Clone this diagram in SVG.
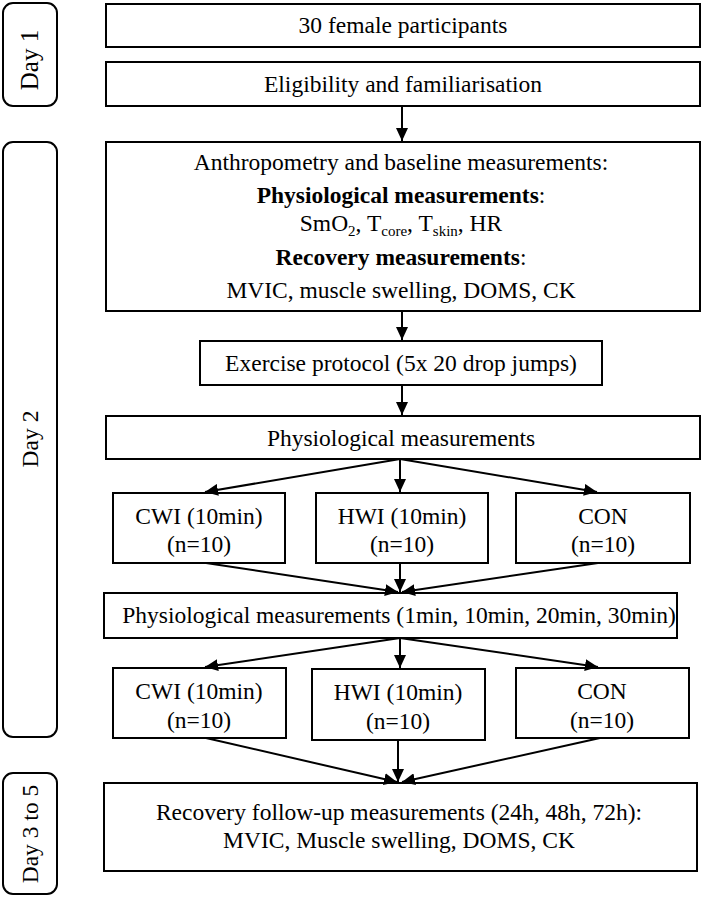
<svg xmlns="http://www.w3.org/2000/svg" width="702" height="898" viewBox="0 0 702 898">
<style>
.box{fill:#fff;stroke:#000;stroke-width:2}
.day{fill:#fff;stroke:#000;stroke-width:2}
text{font-family:"Liberation Serif","Times New Roman",serif;font-size:23.5px;fill:#000;text-anchor:middle}
.b{font-weight:bold}
.c line{stroke:#000;stroke-width:2;marker-end:url(#ah)}
</style>
<defs>
<marker id="ah" markerUnits="userSpaceOnUse" markerWidth="14" markerHeight="12" refX="13" refY="6" orient="auto">
<path d="M0,0 L13,6 L0,12 z" fill="#000"/>
</marker>
</defs>
<rect width="702" height="898" fill="#fff"/>

<g id="day1"><rect class="day" x="3" y="3" width="54" height="103" rx="10"/><text transform="translate(37.5,60) rotate(-90)" style="font-size:25px">Day 1</text></g>
<g id="day2"><rect class="day" x="3" y="142" width="54" height="595" rx="10"/><text transform="translate(37.5,439) rotate(-90)">Day 2</text></g>
<g id="day3"><rect class="day" x="3" y="773" width="54" height="121" rx="10"/><text transform="translate(37.5,834) rotate(-90)">Day 3 to 5</text></g>

<g id="n1"><rect class="box" x="106" y="4" width="594" height="43"/><text x="403" y="33">30 female participants</text></g>
<g id="n2"><rect class="box" x="106" y="62" width="594" height="44"/><text x="403" y="92">Eligibility and familiarisation</text></g>
<g id="n3"><rect class="box" x="106" y="142" width="594" height="169"/>
<text x="401" y="170">Anthropometry and baseline measurements:</text>
<text x="401" y="203"><tspan class="b">Physiological measurements</tspan>:</text>
<text x="401" y="231">SmO<tspan font-size="15" dy="5">2</tspan><tspan dy="-5">, T</tspan><tspan font-size="15" dy="5">core</tspan><tspan dy="-5">, T</tspan><tspan font-size="15" dy="5">skin</tspan><tspan dy="-5">, HR</tspan></text>
<text x="401" y="265"><tspan class="b">Recovery measurements</tspan>:</text>
<text x="401" y="298">MVIC, muscle swelling, DOMS, CK</text>
</g>
<g id="n4"><rect class="box" x="200" y="341" width="402" height="44"/><text x="401" y="371">Exercise protocol (5x 20 drop jumps)</text></g>
<g id="n5"><rect class="box" x="106" y="416" width="594" height="43"/><text x="401" y="446">Physiological measurements</text></g>
<g id="n6"><rect class="box" x="113" y="493" width="172" height="70"/><text x="199" y="524">CWI (10min)</text><text x="199" y="552">(n=10)</text></g>
<g id="n7"><rect class="box" x="316" y="493" width="172" height="70"/><text x="402" y="524">HWI (10min)</text><text x="402" y="552">(n=10)</text></g>
<g id="n8"><rect class="box" x="516" y="493" width="174" height="70"/><text x="603" y="524">CON</text><text x="603" y="552">(n=10)</text></g>
<g id="n9"><rect class="box" x="104" y="593" width="573" height="45"/><text x="399" y="623">Physiological measurements (1min, 10min, 20min, 30min)</text></g>
<g id="n10"><rect class="box" x="113" y="668" width="173" height="70"/><text x="199" y="699">CWI (10min)</text><text x="199" y="728">(n=10)</text></g>
<g id="n11"><rect class="box" x="312" y="669" width="173" height="71"/><text x="398" y="700">HWI (10min)</text><text x="398" y="729">(n=10)</text></g>
<g id="n12"><rect class="box" x="516" y="668" width="173" height="70"/><text x="602" y="699">CON</text><text x="602" y="728">(n=10)</text></g>
<g id="n13"><rect class="box" x="104" y="783" width="593" height="88"/><text x="399" y="820">Recovery follow-up measurements (24h, 48h, 72h):</text><text x="399" y="848">MVIC, Muscle swelling, DOMS, CK</text></g>

<g id="connectors" class="c">
<line x1="402" y1="106" x2="402" y2="141"/>
<line x1="402" y1="311" x2="402" y2="340"/>
<line x1="402" y1="385" x2="402" y2="415"/>
<line x1="400" y1="459" x2="205" y2="492"/>
<line x1="400" y1="459" x2="400" y2="492"/>
<line x1="400" y1="459" x2="597" y2="492"/>
<line x1="206" y1="563" x2="398" y2="592"/>
<line x1="400" y1="563" x2="400" y2="592"/>
<line x1="598" y1="563" x2="402" y2="592"/>
<line x1="400" y1="638" x2="205" y2="667"/>
<line x1="400" y1="638" x2="400" y2="668"/>
<line x1="400" y1="638" x2="598" y2="667"/>
<line x1="206" y1="738" x2="397" y2="782"/>
<line x1="398" y1="740" x2="398" y2="782"/>
<line x1="600" y1="738" x2="402" y2="782"/>
</g>
</svg>
